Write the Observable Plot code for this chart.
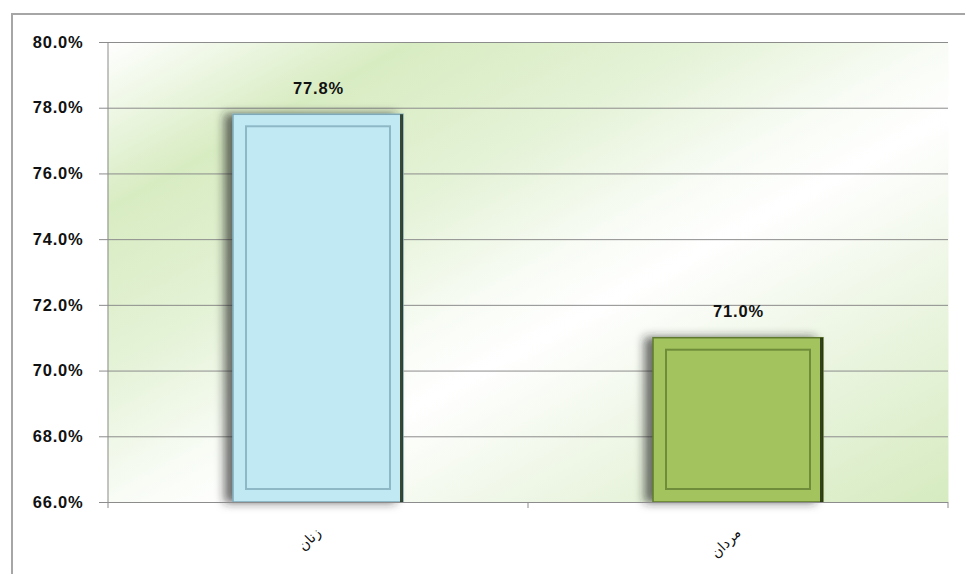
<!DOCTYPE html>
<html>
<head>
<meta charset="utf-8">
<script src="https://cdn.jsdelivr.net/npm/d3@7"></script>
<script src="https://cdn.jsdelivr.net/npm/@observablehq/plot@0.6"></script>
<style>
  html, body { margin: 0; padding: 0; background: #fff; }
  #wrap { position: relative; width: 965px; height: 574px; overflow: hidden; }
  #border { position: absolute; left: 11px; top: 13px; width: 1000px; height: 600px; border: 2px solid #a6a6a6; box-sizing: border-box; }
  #chart { position: absolute; left: 0; top: 0; }
  .ylab text, .vlab text { letter-spacing: 0.8px; }
</style>
</head>
<body>
<div id="wrap"><div id="border"></div><div id="chart"></div></div>
<script>
const categories = ["زنان", "مردان"];
const values = [0.778, 0.710];
const barColors = ["#c0e9f4", "#a3c35e"];
const edgeColors = ["#7fa9b8", "#5f7a2e"];
const innerEdge = ["#8fb8c6", "#6f8c3a"];
const yTicks = [0.66, 0.68, 0.70, 0.72, 0.74, 0.76, 0.78, 0.80];

const data = categories.map((c, i) => ({cat: c, value: values[i], fill: barColors[i], edge: edgeColors[i], inner: innerEdge[i]}));

const plot = Plot.plot({
  width: 965,
  height: 574,
  marginLeft: 107,
  marginRight: 17,
  marginTop: 42,
  marginBottom: 72,
  style: {fontFamily: "'Liberation Sans', Arial, 'DejaVu Sans', sans-serif", background: "transparent"},
  x: {type: "band", domain: categories, paddingInner: 0.596, paddingOuter: 0.298, label: null},
  y: {type: "linear", domain: [0.66, 0.80], label: null},
  marks: [
    Plot.frame({fill: "url(#bgGrad)", stroke: null}),
    Plot.gridY(yTicks, {stroke: "#8c8c8c", strokeOpacity: 1, strokeWidth: 1}),
    Plot.barY(data, {x: "cat", y1: 0.66, y2: "value", fill: "fill", stroke: "edge", strokeWidth: 1.5, className: "outerbar"}),
    Plot.barY(data, {x: "cat", y1: 0.66, y2: "value", fill: "edge", insetLeft: 167, className: "rightedge"}),
    Plot.barY(data, {x: "cat", y1: 0.66, y2: "value", fill: "fill", stroke: "inner", strokeWidth: 2, insetLeft: 13, insetRight: 13, insetTop: 12, insetBottom: 13}),
    Plot.text(data, {x: "cat", y: "value", text: d => d3.format(".1%")(d.value), dy: -26, fontSize: 16.5, fontWeight: "bold", fill: "#111", className: "vlab"}),
    Plot.axisY(yTicks, {tickFormat: d3.format(".1%"), tickSize: 8, tickPadding: 16, fontSize: 16.5, fontWeight: "bold", stroke: "#8c8c8c", fill: "#111", className: "ylab"}),
    Plot.axisX({tickSize: 0, tickRotate: -45, tickPadding: 28, fontSize: 14, fill: "#111", fontFamily: "'DejaVu Sans', sans-serif"}),
    Plot.ruleY([0.66], {stroke: "#8c8c8c", strokeWidth: 1.2})
  ]
});

const svg = d3.select(plot);
const defs = svg.insert("defs", ":first-child");
const g = defs.append("linearGradient").attr("id", "bgGrad").attr("x1", "0").attr("y1", "0").attr("x2", "1").attr("y2", "1");
[[0, "#ffffff"], [0.18, "#d8ecc2"], [0.35, "#e4f2d6"], [0.5, "#f8fcf5"], [0.58, "#ffffff"], [0.75, "#edf6e4"], [1, "#d6ebc0"]]
  .forEach(([o, c]) => g.append("stop").attr("offset", o).attr("stop-color", c));
const f = defs.append("filter").attr("id", "shadow").attr("x", "-25%").attr("y", "-10%").attr("width", "150%").attr("height", "120%");
f.append("feDropShadow").attr("dx", -8).attr("dy", 0).attr("stdDeviation", 5).attr("flood-color", "#222").attr("flood-opacity", 0.65);
svg.selectAll(".outerbar rect").attr("filter", "url(#shadow)");
svg.selectAll(".rightedge rect").attr("fill", "#1e2a10").attr("opacity", 0.85);

// category boundary tick marks at the bottom, derived from the x band scale
const xs = plot.scale("x");
const ys = plot.scale("y");
const step = xs.step;
const first = xs.apply(categories[0]) - (step - xs.bandwidth) / 2;
const yb = ys.apply(0.66);
for (let i = 0; i <= categories.length; i++) {
  const x = first + i * step;
  svg.append("line").attr("x1", x).attr("x2", x).attr("y1", yb).attr("y2", yb + 6).attr("stroke", "#8c8c8c");
}
svg.append("line").attr("x1", first).attr("x2", first).attr("y1", ys.apply(0.80)).attr("y2", yb).attr("stroke", "#8c8c8c");

document.getElementById("chart").appendChild(plot);
</script>
</body>
</html>
